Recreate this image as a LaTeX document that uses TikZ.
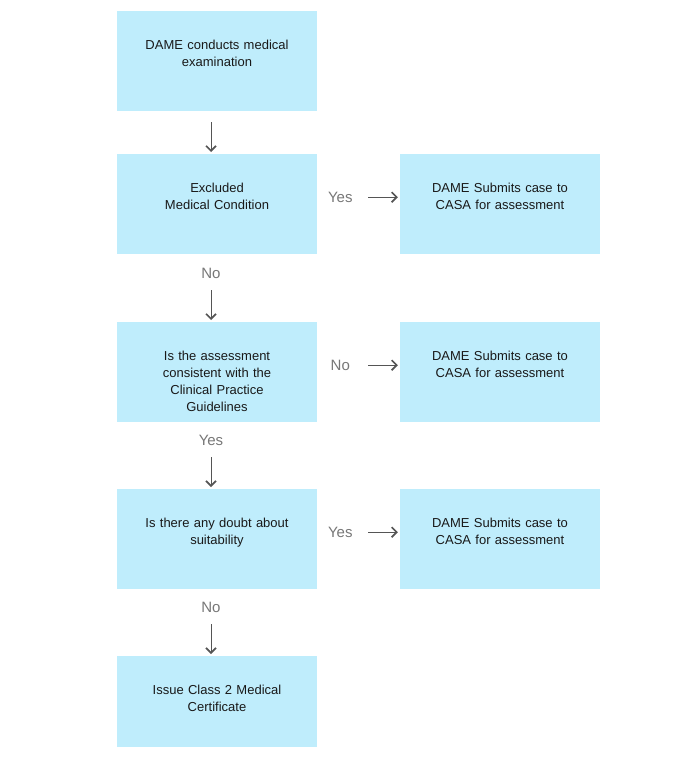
\documentclass[tikz,border=0pt]{standalone}
\usepackage{fontspec}
\setmainfont{Liberation Sans}
\usetikzlibrary{arrows.meta}
\definecolor{boxblue}{HTML}{BFEDFC}
\definecolor{arrgray}{HTML}{555555}
\definecolor{lblgray}{HTML}{777777}
\begin{document}
\begin{tikzpicture}[x=1pt,y=-1pt,
box/.style={fill=boxblue,inner sep=0pt,text width=200pt,align=center,text height=38pt,text depth=62pt,anchor=north,font=\fontsize{13}{17}\selectfont,text=black!90},
arr/.style={draw=arrgray,line width=1pt,-{Straight Barb[length=5pt,width=10pt,line width=1.6pt]},shorten >=2pt},
lbl/.style={text=lblgray,font=\fontsize{15}{18}\selectfont}]
\useasboundingbox(0,0)rectangle(687,765);
\pgfmathsetmacro{\xl}{217}
\pgfmathsetmacro{\xr}{500}
\node[box](exam)at(\xl,11){DAME conducts medical\\examination};
\node[box](excl)at(\xl,154){Excluded\\Medical Condition};
\node[box](cpg)at(\xl,322){Is the assessment\\consistent with the\\Clinical Practice\\Guidelines};
\node[box](doubt)at(\xl,489){Is there any doubt about\\suitability};
\node[box,text depth=53pt](issue)at(\xl,656){Issue Class 2 Medical\\Certificate};
\node[box](casaA)at(\xr,154){DAME Submits case to\\CASA for assessment};
\node[box](casaB)at(\xr,322){DAME Submits case to\\CASA for assessment};
\node[box](casaC)at(\xr,489){DAME Submits case to\\CASA for assessment};
% down the left column
\draw[arr,shorten <=11pt]([xshift=-6pt]exam.south)--([xshift=-6pt]excl.north);
\draw[arr,shorten <=36pt]([xshift=-6pt]excl.south)--([xshift=-6pt]cpg.north)node[lbl,pos=0.28]{No};
\draw[arr,shorten <=35pt]([xshift=-6pt]cpg.south)--([xshift=-6pt]doubt.north)node[lbl,pos=0.27]{Yes};
\draw[arr,shorten <=35pt]([xshift=-6pt]doubt.south)--([xshift=-6pt]issue.north)node[lbl,pos=0.27]{No};
% across to CASA
\draw[arr,shorten <=51pt]([yshift=7pt]excl.east)--([yshift=7pt]casaA.west)node[lbl,pos=0.28]{Yes};
\draw[arr,shorten <=51pt]([yshift=7pt]cpg.east)--([yshift=7pt]casaB.west)node[lbl,pos=0.28]{No};
\draw[arr,shorten <=51pt]([yshift=7pt]doubt.east)--([yshift=7pt]casaC.west)node[lbl,pos=0.28]{Yes};
\end{tikzpicture}
\end{document}
